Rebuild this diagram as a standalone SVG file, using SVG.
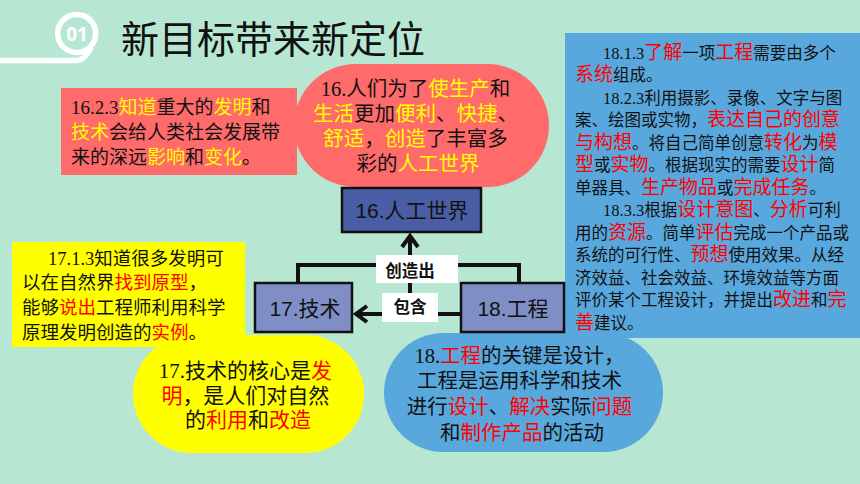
<svg xmlns="http://www.w3.org/2000/svg" width="860" height="484" viewBox="0 0 860 484">
<style>
.s{font-family:"Liberation Serif","Noto Sans CJK SC",serif;fill:#111}
.h{font-family:"Liberation Sans","Noto Sans CJK SC",sans-serif}
.y{fill:#FFFF00}
.r{fill:#FF0000}
.node{stroke:#111;stroke-width:2.5}
.nt{font-family:"Liberation Sans","Noto Sans CJK SC",sans-serif;font-size:21px;fill:#111;text-anchor:middle}
.lab{font-family:"Liberation Sans","Noto Sans CJK SC",sans-serif;font-size:16.5px;font-weight:bold;fill:#111;text-anchor:middle}
.con{fill:none;stroke:#111;stroke-width:4}
.bl{font-size:16.5px}
.bl .r{font-size:19px}
</style>
<rect width="860" height="484" fill="#B7E7D3"/>

<g id="title">
<path d="M0,60.5 H76 C84,60.5 88,54 91,47" fill="none" stroke="#fff" stroke-width="5.5"/>
<circle cx="76.7" cy="33.4" r="19" fill="none" stroke="#fff" stroke-width="5.5"/>
<text x="77" y="40.5" font-family="'Open Sans','Liberation Sans',sans-serif" font-size="19" font-weight="bold" fill="#fff" text-anchor="middle">01</text>
<text x="121" y="53" font-family="'Noto Sans CJK SC',sans-serif" font-size="38" fill="#111">新目标带来新定位</text>
</g>

<g id="note-red-rect">
<rect x="61" y="88" width="236" height="87" fill="#FF6B6B"/>
<text class="s" font-size="19">
<tspan x="71" y="114">16.2.3<tspan class="h y">知道</tspan>重大的<tspan class="h y">发明</tspan>和</tspan>
<tspan x="71" y="139"><tspan class="h y">技术</tspan>会给人类社会发展带</tspan>
<tspan x="71" y="164">来的深远<tspan class="h y">影响</tspan>和<tspan class="h y">变化</tspan>。</tspan>
</text>
</g>

<g id="note-red-oval">
<rect x="294" y="64" width="255" height="123" rx="61.5" fill="#FF6B6B"/>
<text class="s" font-size="20.5" text-anchor="middle">
<tspan x="418" y="96">16.人们为了<tspan class="h y">使生产</tspan>和</tspan>
<tspan x="418" y="121"><tspan class="h y">生活</tspan>更加<tspan class="h y">便利</tspan>、<tspan class="h y">快捷</tspan>、</tspan>
<tspan x="418" y="146"><tspan class="h y">舒适</tspan>，<tspan class="h y">创造</tspan>了丰富多</tspan>
<tspan x="418" y="171">彩的<tspan class="h y">人工世界</tspan></tspan>
</text>
</g>

<g id="note-blue-box">
<rect x="565" y="33" width="295" height="305" fill="#59A8DD"/>
<text class="s bl">
<tspan x="603" y="58.5">18.1.3<tspan class="h r">了解</tspan>一项<tspan class="h r">工程</tspan>需要由多个</tspan>
<tspan x="575" y="81"><tspan class="h r">系统</tspan>组成。</tspan>
<tspan x="603" y="103.5">18.2.3利用摄影、录像、文字与图</tspan>
<tspan x="575" y="126">案、绘图或实物，<tspan class="h r">表达自己的创意</tspan></tspan>
<tspan x="575" y="148.5"><tspan class="h r">与构想</tspan>。将自己简单创意<tspan class="h r">转化</tspan>为<tspan class="h r">模</tspan></tspan>
<tspan x="575" y="171"><tspan class="h r">型</tspan>或<tspan class="h r">实物</tspan>。根据现实的需要<tspan class="h r">设计</tspan>简</tspan>
<tspan x="575" y="193.5">单器具、<tspan class="h r">生产物品</tspan>或<tspan class="h r">完成任务</tspan>。</tspan>
<tspan x="603" y="216">18.3.3根据<tspan class="h r">设计意图</tspan>、<tspan class="h r">分析</tspan>可利</tspan>
<tspan x="575" y="238.5">用的<tspan class="h r">资源</tspan>。简单<tspan class="h r">评估</tspan>完成一个产品或</tspan>
<tspan x="575" y="261">系统的可行性、<tspan class="h r">预想</tspan>使用效果。从经</tspan>
<tspan x="575" y="283.5">济效益、社会效益、环境效益等方面</tspan>
<tspan x="575" y="306">评价某个工程设计，并提出<tspan class="h r">改进</tspan>和<tspan class="h r">完</tspan></tspan>
<tspan x="575" y="328.5"><tspan class="h r">善</tspan>建议。</tspan>
</text>
</g>

<g id="note-yellow-oval">
<rect x="133" y="335" width="231" height="118" rx="59" fill="#FFFF00"/>
<text class="s" font-size="21" text-anchor="middle">
<tspan x="248" y="378">17.技术的核心是<tspan class="h r">发</tspan></tspan>
<tspan x="248" y="403"><tspan class="h r">明</tspan>，是人们对自然</tspan>
<tspan x="248" y="427">的<tspan class="h r">利用</tspan>和<tspan class="h r">改造</tspan></tspan>
</text>
</g>

<g id="note-yellow-rect">
<rect x="12" y="242" width="233" height="105" fill="#FFFF00"/>
<text class="s" font-size="18.5">
<tspan x="48" y="265">17.1.3知道很多发明可</tspan>
<tspan x="22" y="289">以在自然界<tspan class="h r">找到原型</tspan>，</tspan>
<tspan x="22" y="314">能够<tspan class="h r">说出</tspan>工程师利用科学</tspan>
<tspan x="22" y="339">原理发明创造的<tspan class="h r">实例</tspan>。</tspan>
</text>
</g>

<g id="note-blue-oval">
<rect x="384" y="333" width="279" height="119" rx="59.5" fill="#59A8DD"/>
<text class="s" font-size="20.5" text-anchor="middle">
<tspan x="522" y="363">18.<tspan class="h r">工程</tspan>的关键是设计，</tspan>
<tspan x="522" y="388">工程是运用科学和技术</tspan>
<tspan x="522" y="414">进行<tspan class="h r">设计</tspan>、<tspan class="h r">解决</tspan>实际<tspan class="h r">问题</tspan></tspan>
<tspan x="522" y="440">和<tspan class="h r">制作产品</tspan>的活动</tspan>
</text>
</g>

<g id="n16">
<rect class="node" x="342" y="188" width="139" height="44" fill="#4A5EA6"/>
<text class="nt" x="412" y="217.5">16.人工世界</text>
</g>
<g id="n17">
<rect class="node" x="255" y="283" width="97" height="49" fill="#7F8FC6"/>
<text class="nt" x="305" y="315.5">17.技术</text>
</g>
<g id="n18">
<rect class="node" x="461" y="283" width="103" height="49" fill="#7F8FC6"/>
<text class="nt" x="513" y="315.5">18.工程</text>
</g>

<g id="connectors">
<path class="con" d="M298,283 V265 H519 V283"/>
<path class="con" d="M410,314 V236"/>
<path class="con" d="M402,247 L410,236 L418,247"/>
<path class="con" d="M461,314 H356"/>
<path class="con" d="M367,306 L356,314 L367,322"/>
<rect x="376" y="255" width="82" height="28" fill="#fff"/>
<text class="lab" x="410" y="277">创造出</text>
<rect x="382" y="293" width="56" height="29" fill="#fff"/>
<text class="lab" x="410" y="313">包含</text>
</g>
</svg>
